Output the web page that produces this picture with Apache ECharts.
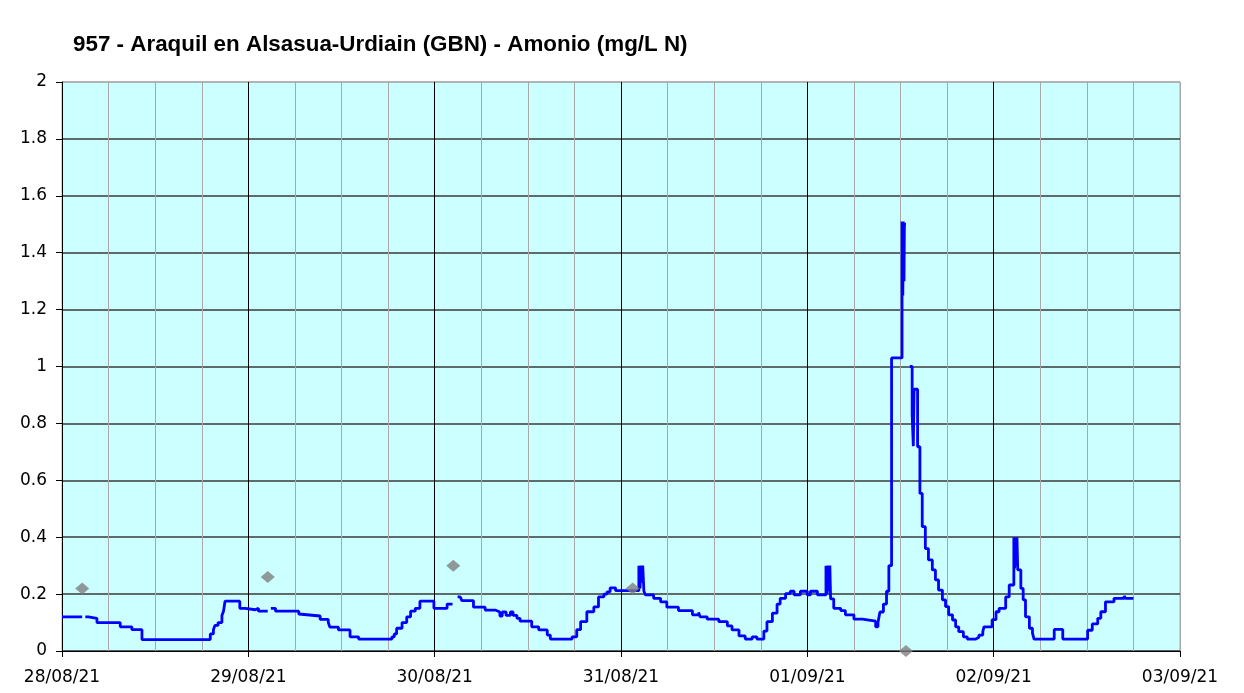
<!DOCTYPE html>
<html>
<head>
<meta charset="utf-8">
<script src="https://cdn.jsdelivr.net/npm/echarts@6/dist/echarts.min.js"></script>
<style>
  html, body { margin: 0; padding: 0; background: #ffffff; }
  #chart { width: 1244px; height: 693px; }
</style>
</head>
<body>
<div id="chart"></div>
<script>
  // horas desde 28/08/21 00:00
  const hours = [
    0, 2.5, 2.6, 3.0, 3.4, 4.5, 7.5, 9.0, 10.3, 19.1, 19.5, 19.7, 20.1, 20.6, 20.8, 21.0, 22.9, 23.6,
    24.9, 25.3, 26.4, 26.5, 26.9, 27.5, 30.5, 30.6, 33.25, 34.3, 34.5, 35.6, 37.1, 38.2, 42.5, 42.8,
    43.1, 43.8, 44.4, 44.9, 45.5, 46.1, 47.9, 49.6, 50.2, 50.3, 50.95, 51.3, 51.5, 53.0, 54.5, 55.8,
    56.4, 56.7, 57.2, 57.75, 58.1, 58.6, 59.0, 60.5, 61.4, 62.5, 62.9, 65.7, 66.3, 66.8, 67.6, 68.5,
    69.1, 69.8, 70.2, 70.6, 71.3, 74.3, 74.45, 74.55, 74.7, 74.8, 74.95, 75.15, 76.2, 77.1, 77.9,
    79.4, 81.2, 82.0, 82.2, 83.1, 84.6, 85.7, 86.3, 87.2, 88.0, 88.9, 89.5, 90.4, 90.8, 91.5, 92.1,
    92.5, 93.2, 93.8, 94.3, 95.1, 96.0, 96.4, 97.3, 98.4, 98.55, 98.65, 98.8, 98.9, 99.0, 99.4,
    100.3, 100.9, 102.0, 103.1, 104.8, 105.1, 105.35, 105.8, 106.2, 106.5, 106.85, 108.2,
    108.3, 108.35, 108.45, 108.5, 108.6, 108.7, 109.2, 109.5, 109.65, 109.75, 110.2, 110.5, 110.8,
    111.2, 111.6, 112.1, 112.5, 112.9, 113.4, 113.8, 114.2, 114.7, 115.1, 115.5, 116.1, 116.6,
    117.7, 118.1, 118.6, 118.75, 119.8, 120.3, 120.7, 121.55, 122.0, 122.6, 122.7, 122.8, 122.9,
    123.0, 123.1, 123.5, 123.8, 124.1, 124.6, 125.0, 125.2, 127.8, 128.9, 132.1, 132.7, 133.4,
    133.8, 134.4, 135.5, 136.8, 137.0, 138.0
  ];
  const amonio = [
    0.12, 0.12, null, 0.12, 0.115, 0.10, 0.085, 0.075, 0.04, 0.06, 0.075, 0.09, 0.10, 0.125, 0.14, 0.175, 0.15, 0.145,
    0.15, 0.14, 0.14, null, 0.15, 0.14, 0.13, 0.123, 0.111, 0.10, 0.084, 0.074, 0.05, 0.042, 0.05, 0.06,
    0.08, 0.10, 0.12, 0.14, 0.15, 0.175, 0.15, 0.165, 0.165, null, 0.19, 0.183, 0.177, 0.154, 0.144, 0.137,
    0.123, 0.137, 0.125, 0.137, 0.125, 0.115, 0.105, 0.085, 0.074, 0.056, 0.042, 0.05, 0.075, 0.103, 0.138, 0.155,
    0.19, 0.20, 0.208, 0.222, 0.212, 0.30, 0.22, 0.30, 0.24, 0.30, 0.21, 0.197, 0.185, 0.173, 0.154,
    0.142, 0.127, 0.135, 0.12, 0.112, 0.103, 0.088, 0.074, 0.053, 0.042, 0.05, 0.042, 0.07, 0.103, 0.133, 0.165,
    0.185, 0.202, 0.21, 0.197, 0.21, 0.197, 0.21, 0.197, 0.30, 0.20, 0.30, 0.21, 0.30, 0.183, 0.15,
    0.142, 0.127, 0.112, 0.105, 0.085, 0.10, 0.137, 0.165, 0.21, 0.30, 1.03, 1.51,
    1.25, 1.51, 1.30, 1.50, 1.50, null, 1.00, 0.83, 0.72, 0.92, 0.718, 0.554, 0.437,
    0.36, 0.32, 0.285, 0.25, 0.214, 0.18, 0.156, 0.127, 0.109, 0.085, 0.068, 0.05, 0.042,
    0.048, 0.056, 0.068, 0.085, 0.11, 0.138, 0.15, 0.19, 0.232, 0.40, 0.29, 0.40, 0.30,
    0.40, 0.285, 0.22, 0.18, 0.12, 0.08, 0.063, 0.042, 0.076, 0.042, 0.073, 0.095, 0.115,
    0.138, 0.173, 0.185, 0.193, 0.185, 0.185
  ];
  // muestras de laboratorio
  const labHours = [2.6, 26.5, 50.4, 73.5, 108.7];
  const labValues = [0.22, 0.26, 0.30, 0.22, 0.0];
  const dayLabels = ['28/08/21', '29/08/21', '30/08/21', '31/08/21', '01/09/21', '02/09/21', '03/09/21'];

  const font = 'DejaVu Sans, Verdana, sans-serif';

  // 25 lineas verticales cada 6 h: negra en cada dia, gris el resto
  const vColors = [];
  for (let i = 0; i <= 24; i++) vColors.push(i % 4 === 0 && i < 24 ? '#000000' : '#a8a8a8');
  const hColors = [];
  for (let i = 0; i <= 10; i++) hColors.push(i < 10 ? '#3a3a3a' : '#a8a8a8');

  const option = {
    animation: false,
    backgroundColor: '#ffffff',
    title: {
      text: '957 - Araquil en Alsasua-Urdiain (GBN) - Amonio (mg/L N)',
      left: 73,
      top: 34,
      padding: 0,
      textStyle: { fontFamily: 'Liberation Sans, Arial, sans-serif', fontWeight: 'bold', fontSize: 22.4, color: '#000' }
    },
    grid: {
      left: 62, right: 64, top: 82, bottom: 42,
      show: true, backgroundColor: '#ccffff', borderColor: '#a8a8a8', borderWidth: 1
    },
    xAxis: [
      {
        type: 'value', min: 0, max: 144, interval: 24, position: 'bottom',
        axisLine: { lineStyle: { color: '#000', width: 1 } },
        axisTick: { show: true, length: 6, lineStyle: { color: '#000' } },
        axisLabel: {
          margin: 18, fontFamily: font, fontSize: 17, color: '#000',
          formatter: v => dayLabels[Math.round(v / 24)]
        },
        splitLine: { show: false }
      },
      {
        type: 'value', min: 0, max: 144, interval: 6, position: 'bottom',
        axisLine: { show: false }, axisTick: { show: false }, axisLabel: { show: false },
        splitLine: { show: true, lineStyle: { color: vColors, width: 1 } }
      }
    ],
    yAxis: {
      type: 'value', min: 0, max: 2, interval: 0.2,
      axisLine: { show: true, lineStyle: { color: '#000', width: 1 } },
      axisTick: { show: true, length: 6, lineStyle: { color: '#000' } },
      axisLabel: {
        margin: 15, fontFamily: font, fontSize: 17, color: '#000',
        formatter: v => String(Math.round(v * 10) / 10)
      },
      splitLine: { show: true, lineStyle: { color: hColors, width: 1.5 } }
    },
    series: [
      {
        type: 'line', xAxisIndex: 0, step: 'end', showSymbol: false, symbol: 'none',
        connectNulls: false,
        lineStyle: { color: '#0000ff', width: 2.8 },
        data: hours.map((h, i) => [h, amonio[i] === null ? '-' : amonio[i]]),
        z: 3
      },
      {
        type: 'scatter', xAxisIndex: 0, symbol: 'diamond', symbolSize: [14, 12], clip: false,
        itemStyle: { color: '#7f7f7f' },
        data: labHours.map((h, i) => [h, labValues[i]]),
        z: 4
      }
    ]
  };

  const chart = echarts.init(document.getElementById('chart'));
  chart.setOption(option);
</script>
</body>
</html>
